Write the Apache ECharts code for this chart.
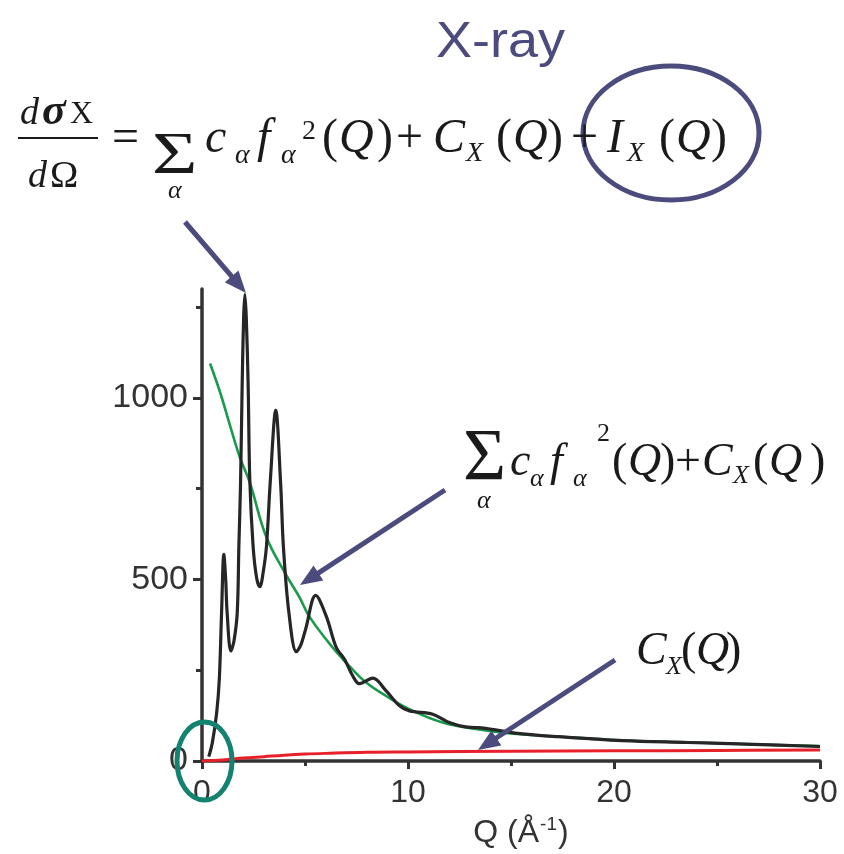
<!DOCTYPE html>
<html>
<head>
<meta charset="utf-8">
<script src="https://cdn.jsdelivr.net/npm/echarts@6/dist/echarts.min.js"></script>
<style>
html,body{margin:0;padding:0;background:#fff;}
#chart{width:844px;height:854px;}
</style>
</head>
<body>
<div id="chart"></div>
<script>
// ---- data ----
const qTotal = [0.33,0.5,0.71,0.84,0.95,1.06,1.15,1.22,1.40,1.55,1.71,1.79,1.87,1.95,2.02,2.08,2.15,2.24,2.32,2.48,2.65,2.81,2.97,3.13,3.32,3.58,3.82,3.95,4.22,4.58,4.8,5.03,5.52,6.03,6.52,6.92,7.32,7.64,8.29,8.94,9.59,10.07,11.2,12.0,12.8,13.77,15.2,17.3,20.4,23.6,26,30];
const iTotal = [12,50,132,225,408,569,500,408,303,330,408,592,761,1036,1220,1285,1220,1036,775,592,505,480,520,592,775,966,761,592,408,301,320,363,456,399,312,280,234,213,228,193,152,138,129,106,94,90,77,67,56,51,47,40];

const qSelf = [0.39,0.87,1.35,1.84,2.32,3.13,4.1,4.74,5.22,6.35,7.16,7.97,8.94,10.06,11.68,13.3,14.75,17,20,25,30];
const iSelf = [1095,1017,926,836,767,616,511,450,397,312,261,216,179,143,106,88,77,68,58,49,41];

const qCompton = [0,1,2,3,4,5,6,8,10,15,20,25,30];
const iCompton = [0,3,8,12,16,19,21,24,25,27,28,29,30];

const xMajorLabels = [0,10,20,30];
const yLabelValues = [0,500,1000];
const yMinorTicks = [250,750,1250];

// ---- build ----
const zip = (a,b) => a.map((v,i)=>[v,b[i]]);
const chart = echarts.init(document.getElementById('chart'));
const AX = '#333333';
const SLATE = '#4b4b7d';
const SERIF = '"Liberation Serif", "DejaVu Serif", serif';
const SANS = '"Liberation Sans", Arial, sans-serif';

function T(x, base, s, size, style, family, color, extra){
  const fam = family || SERIF;
  const k = fam === SANS ? 0.28 : 0.22;
  const el = {
    type:'text', x:x, y:base - k*size, z:100,
    style:{text:s, font:(style||'') + ' ' + size + 'px ' + fam, fill:color||'#1a1a1a', align:'left', verticalAlign:'middle'}
  };
  if (extra) Object.assign(el, extra);
  return el;
}
function arrow(x1,y1,x2,y2){
  const dx=x2-x1, dy=y2-y1, L=Math.hypot(dx,dy), ux=dx/L, uy=dy/L;
  const hl=22, hw=9;
  const bx=x2-ux*hl, by=y2-uy*hl;
  return [
    {type:'line', z:90, shape:{x1:x1,y1:y1,x2:bx+ux*2,y2:by+uy*2}, style:{stroke:SLATE,lineWidth:5}},
    {type:'polygon', z:90, shape:{points:[[x2,y2],[bx-uy*hw,by+ux*hw],[bx+uy*hw,by-ux*hw]]}, style:{fill:SLATE}}
  ];
}

const g = [];
// title
g.push(T(436, 57, 'X-ray', 50, '', SANS, SLATE, {scaleX:1.08}));
// main equation
g.push(T(20, 122, 'd', 38, 'italic'));
g.push(T(42, 122, 'σ', 44, 'italic bold'));
g.push(T(70, 122, 'X', 32, ''));
g.push({type:'rect', z:100, shape:{x:18,y:137,width:80,height:2}, style:{fill:'#1a1a1a'}});
g.push(T(28, 185, 'd', 38, 'italic'));
g.push(T(50, 185, 'Ω', 38, ''));
g.push(T(112, 150, '=', 48, ''));
g.push(T(152, 170, 'Σ', 60, '', SERIF, '#1a1a1a', {scaleX:1.3}));
g.push(T(168, 197, 'α', 26, 'italic'));
g.push(T(205, 150, 'c', 48, 'italic'));
g.push(T(235, 162, 'α', 28, 'italic'));
g.push(T(257, 150, 'f', 48, 'italic'));
g.push(T(281, 162, 'α', 28, 'italic'));
g.push(T(302, 138, '2', 28, ''));
g.push(T(322, 150, '(', 48, ''));
g.push(T(339, 150, 'Q', 48, 'italic'));
g.push(T(377, 150, ')', 48, ''));
g.push(T(396, 150, '+', 48, ''));
g.push(T(433, 150, 'C', 48, 'italic'));
g.push(T(466, 160, 'X', 28, 'italic'));
g.push(T(496, 150, '(', 48, ''));
g.push(T(513, 150, 'Q', 48, 'italic'));
g.push(T(547, 150, ')', 48, ''));
g.push(T(571, 150, '+', 48, ''));
g.push(T(607, 150, 'I', 48, 'italic'));
g.push(T(627, 160, 'X', 28, 'italic'));
g.push(T(659, 150, '(', 48, ''));
g.push(T(676, 150, 'Q', 48, 'italic'));
g.push(T(711, 150, ')', 48, ''));
g.push({type:'ellipse', z:95, shape:{cx:671,cy:133,rx:88,ry:67}, style:{fill:'none',stroke:SLATE,lineWidth:5}});
// annotation: self scattering + Compton
g.push(T(463, 477, 'Σ', 74, ''));
g.push(T(477, 507, 'α', 26, 'italic'));
g.push(T(510, 473, 'c', 46, 'italic'));
g.push(T(530, 485, 'α', 26, 'italic'));
g.push(T(550, 473, 'f', 46, 'italic'));
g.push(T(573, 485, 'α', 26, 'italic'));
g.push(T(597, 440, '2', 26, ''));
g.push(T(612, 473, '(', 46, ''));
g.push(T(628, 473, 'Q', 46, 'italic'));
g.push(T(660, 473, ')', 46, ''));
g.push(T(675, 473, '+', 46, ''));
g.push(T(702, 473, 'C', 46, 'italic'));
g.push(T(733, 482, 'X', 26, 'italic'));
g.push(T(753, 473, '(', 46, ''));
g.push(T(769, 473, 'Q', 46, 'italic'));
g.push(T(810, 473, ')', 46, ''));
// annotation: Compton
g.push(T(636, 662, 'C', 46, 'italic'));
g.push(T(666, 673, 'X', 26, 'italic'));
g.push(T(681, 662, '(', 46, ''));
g.push(T(696, 662, 'Q', 46, 'italic'));
g.push(T(726, 662, ')', 46, ''));
// arrows
arrow(185,222,246,293).forEach(e=>g.push(e));
arrow(445,490,300,585).forEach(e=>g.push(e));
arrow(615,660,478,750).forEach(e=>g.push(e));
// teal ellipse at origin
g.push({type:'ellipse', z:95, shape:{cx:204.5,cy:761,rx:27.5,ry:39}, style:{fill:'none',stroke:'#13836f',lineWidth:5}});

const option = {
  backgroundColor:'#ffffff',
  animation:false,
  grid:{left:202,right:24,top:289,bottom:91,containLabel:false},
  xAxis:{
    type:'value', min:0, max:30, interval:10,
    axisLine:{show:true,lineStyle:{color:AX,width:3.5}},
    axisTick:{show:true,length:8,inside:false,lineStyle:{color:AX,width:3}},
    minorTick:{show:true,splitNumber:2,length:5,lineStyle:{color:AX,width:3}},
    splitLine:{show:false}, minorSplitLine:{show:false},
    axisLabel:{customValues:xMajorLabels,color:AX,fontSize:32,fontFamily:SANS,margin:16,formatter:v=>String(v)},
    name:'{a|Q (Å}{s|-1}{a|)}', nameLocation:'middle', nameGap:54,
    nameTextStyle:{padding:[0,0,0,20],rich:{
      a:{fontSize:32,fontFamily:SANS,color:AX,lineHeight:34,verticalAlign:'bottom'},
      s:{fontSize:19,fontFamily:SANS,color:AX,lineHeight:34,verticalAlign:'top',padding:[0,1,0,1]}
    }}
  },
  yAxis:[{
    type:'value', min:0, max:1300,
    axisLine:{show:true,onZero:false,lineStyle:{color:AX,width:3.5}},
    axisTick:{show:true,customValues:yLabelValues,length:9,lineStyle:{color:AX,width:3}},
    splitLine:{show:false},
    axisLabel:{customValues:yLabelValues,color:AX,fontSize:34,fontFamily:SANS,margin:14,formatter:v=>String(v)}
  },{
    type:'value', min:0, max:1300, position:'left',
    axisLine:{show:false},
    axisTick:{show:true,customValues:yMinorTicks,length:6,lineStyle:{color:AX,width:3}},
    splitLine:{show:false},
    axisLabel:{show:false}
  }],
  series:[
    {type:'line', name:'Compton', data:zip(qCompton,iCompton), smooth:0.4, symbol:'none', z:3,
     lineStyle:{color:'#e8202a',width:3}},
    {type:'line', name:'self', data:zip(qSelf,iSelf), smooth:0.4, symbol:'none', z:4,
     lineStyle:{color:'#1a9a4c',width:2.6}},
    {type:'line', name:'total', data:zip(qTotal,iTotal), smooth:0.35, symbol:'none', z:5,
     lineStyle:{color:'#262626',width:3.2}}
  ],
  graphic:{elements:g}
};
chart.setOption(option);
</script>
</body>
</html>
